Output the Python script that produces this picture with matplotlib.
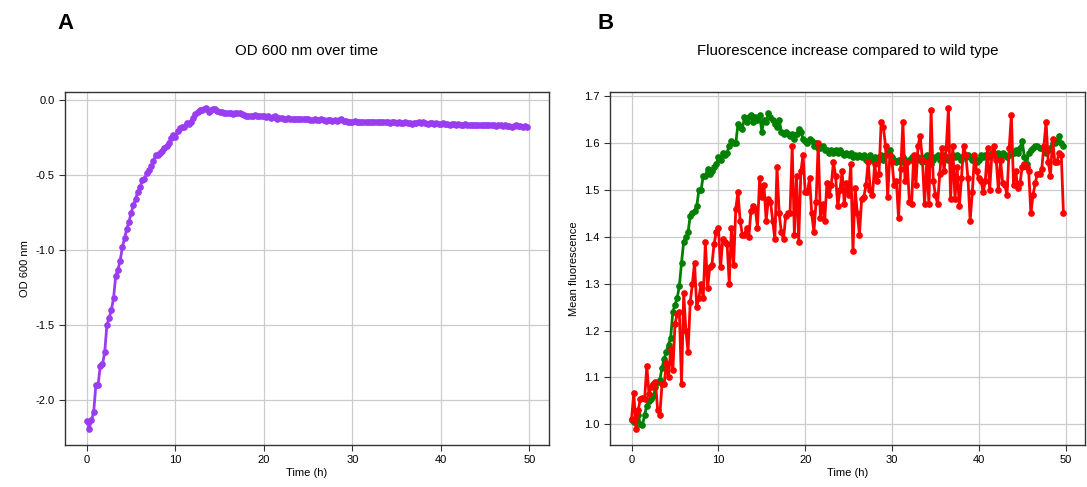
import numpy as np
import matplotlib
matplotlib.use("Agg")
import matplotlib.pyplot as plt

od600 = [
    -2.14, -2.19, -2.13, -2.08, -1.90, -1.90, -1.77, -1.76, -1.68, -1.50, -1.45, -1.40, -1.32, -1.17, -1.13, -1.07,
    -0.98, -0.92, -0.86, -0.81, -0.75, -0.70, -0.66, -0.61, -0.58, -0.535, -0.53, -0.485, -0.47, -0.44, -0.41, -0.37,
    -0.37, -0.355, -0.34, -0.32, -0.31, -0.29, -0.255, -0.235, -0.245, -0.21, -0.185, -0.18, -0.18, -0.155, -0.16, -0.15,
    -0.12, -0.095, -0.08, -0.07, -0.065, -0.06, -0.055, -0.08, -0.065, -0.06, -0.06, -0.075, -0.08, -0.08, -0.085, -0.085,
    -0.09, -0.09, -0.095, -0.09, -0.085, -0.09, -0.095, -0.10, -0.105, -0.11, -0.11, -0.105, -0.10, -0.105, -0.11, -0.11,
    -0.11, -0.115, -0.11, -0.12, -0.115, -0.11, -0.125, -0.12, -0.12, -0.125, -0.125, -0.12, -0.125, -0.125, -0.13, -0.13,
    -0.125, -0.13, -0.13, -0.125, -0.13, -0.135, -0.135, -0.13, -0.135, -0.135, -0.13, -0.135, -0.14, -0.135, -0.135, -0.14,
    -0.135, -0.14, -0.135, -0.13, -0.14, -0.14, -0.145, -0.145, -0.145, -0.14, -0.145, -0.145, -0.145, -0.15, -0.145, -0.145,
    -0.145, -0.15, -0.145, -0.15, -0.15, -0.145, -0.15, -0.15, -0.15, -0.155, -0.15, -0.15, -0.155, -0.15, -0.155, -0.155,
    -0.15, -0.155, -0.155, -0.16, -0.155, -0.155, -0.15, -0.155, -0.15, -0.155, -0.16, -0.155, -0.155, -0.16, -0.155, -0.16,
    -0.16, -0.155, -0.16, -0.16, -0.165, -0.16, -0.16, -0.165, -0.16, -0.165, -0.165, -0.16, -0.165, -0.165, -0.165, -0.17,
    -0.165, -0.165, -0.17, -0.165, -0.17, -0.17, -0.165, -0.17, -0.17, -0.175, -0.17, -0.17, -0.175, -0.17, -0.175, -0.175,
    -0.18, -0.175, -0.17, -0.175, -0.175, -0.18, -0.175, -0.18,
]

fluo_green = [
    1.01, 1.005, 1.005, 1.02, 1.00, 0.998, 1.02, 1.04, 1.05, 1.055, 1.06, 1.08, 1.09, 1.095, 1.12, 1.14,
    1.155, 1.17, 1.185, 1.24, 1.255, 1.27, 1.295, 1.345, 1.39, 1.40, 1.41, 1.445, 1.45, 1.455, 1.465, 1.50,
    1.50, 1.53, 1.53, 1.545, 1.535, 1.54, 1.55, 1.555, 1.57, 1.565, 1.58, 1.575, 1.58, 1.595, 1.605, 1.60,
    1.60, 1.64, 1.635, 1.63, 1.655, 1.645, 1.655, 1.66, 1.645, 1.655, 1.65, 1.66, 1.625, 1.65, 1.645, 1.665,
    1.655, 1.65, 1.64, 1.635, 1.65, 1.625, 1.62, 1.625, 1.62, 1.615, 1.62, 1.61, 1.62, 1.63, 1.625, 1.61,
    1.605, 1.60, 1.61, 1.605, 1.595, 1.60, 1.59, 1.59, 1.595, 1.585, 1.585, 1.58, 1.585, 1.58, 1.585, 1.58,
    1.585, 1.58, 1.575, 1.58, 1.575, 1.58, 1.57, 1.575, 1.57, 1.575, 1.57, 1.575, 1.565, 1.57, 1.575, 1.565,
    1.57, 1.56, 1.57, 1.575, 1.565, 1.575, 1.58, 1.585, 1.57, 1.565, 1.56, 1.565, 1.56, 1.57, 1.565, 1.56,
    1.565, 1.57, 1.56, 1.565, 1.57, 1.565, 1.56, 1.57, 1.575, 1.56, 1.555, 1.565, 1.57, 1.575, 1.565, 1.57,
    1.575, 1.57, 1.565, 1.57, 1.575, 1.57, 1.575, 1.57, 1.565, 1.575, 1.57, 1.575, 1.57, 1.565, 1.57, 1.56,
    1.565, 1.575, 1.57, 1.575, 1.57, 1.575, 1.58, 1.575, 1.57, 1.58, 1.575, 1.58, 1.575, 1.57, 1.575, 1.58,
    1.58, 1.585, 1.58, 1.59, 1.605, 1.57, 1.555, 1.58, 1.585, 1.59, 1.595, 1.595, 1.59, 1.59, 1.585, 1.58,
    1.585, 1.59, 1.60, 1.60, 1.605, 1.615, 1.60, 1.595,
]

fluo_red = [
    1.012, 1.067, 0.99, 1.03, 1.053, 1.057, 1.055, 1.125, 1.065, 1.08, 1.085, 1.09, 1.03, 1.02, 1.085, 1.085,
    1.13, 1.10, 1.16, 1.115, 1.215, 1.235, 1.24, 1.085, 1.28, 1.20, 1.155, 1.26, 1.30, 1.345, 1.25, 1.27,
    1.30, 1.27, 1.39, 1.29, 1.335, 1.34, 1.385, 1.41, 1.42, 1.335, 1.395, 1.39, 1.385, 1.30, 1.42, 1.34,
    1.46, 1.495, 1.435, 1.405, 1.405, 1.42, 1.40, 1.455, 1.465, 1.46, 1.42, 1.525, 1.485, 1.51, 1.435, 1.48,
    1.475, 1.435, 1.395, 1.55, 1.45, 1.41, 1.395, 1.445, 1.45, 1.45, 1.595, 1.405, 1.53, 1.39, 1.54, 1.575,
    1.495, 1.495, 1.525, 1.45, 1.41, 1.475, 1.60, 1.44, 1.47, 1.435, 1.515, 1.49, 1.51, 1.56, 1.53, 1.465,
    1.50, 1.54, 1.47, 1.515, 1.49, 1.555, 1.37, 1.505, 1.45, 1.405, 1.48, 1.485, 1.51, 1.56, 1.50, 1.49,
    1.555, 1.52, 1.535, 1.645, 1.635, 1.595, 1.485, 1.575, 1.56, 1.51, 1.52, 1.44, 1.545, 1.645, 1.52, 1.56,
    1.475, 1.47, 1.575, 1.51, 1.595, 1.615, 1.565, 1.47, 1.56, 1.47, 1.67, 1.52, 1.49, 1.47, 1.535, 1.59,
    1.54, 1.59, 1.675, 1.48, 1.595, 1.48, 1.55, 1.465, 1.525, 1.595, 1.575, 1.525, 1.435, 1.495, 1.575, 1.54,
    1.525, 1.52, 1.495, 1.52, 1.59, 1.50, 1.575, 1.595, 1.565, 1.50, 1.565, 1.515, 1.51, 1.49, 1.59, 1.66,
    1.51, 1.54, 1.505, 1.515, 1.55, 1.555, 1.55, 1.54, 1.45, 1.49, 1.515, 1.535, 1.535, 1.545, 1.595, 1.645,
    1.56, 1.53, 1.61, 1.56, 1.56, 1.58, 1.575, 1.45,
]

time_h = np.arange(len(od600)) * 0.25

# --- STYLE ---
plt.rcParams['font.family'] = ['Liberation Sans', 'DejaVu Sans']
plt.rcParams['axes.unicode_minus'] = False
GRID = '#cccccc'

fig = plt.figure(figsize=(10.87, 4.87), dpi=100)
ax_od = fig.add_axes([0.0598, 0.0862, 0.4453, 0.7248])
ax_fl = fig.add_axes([0.5612, 0.0862, 0.4370, 0.7248])

for ax in (ax_od, ax_fl):
    ax.grid(True, color=GRID, linewidth=0.9)
    ax.set_axisbelow(True)
    ax.tick_params(labelsize=8, length=4, width=0.8, color='#333333')
    for s in ax.spines.values():
        s.set_color('#333333')
        s.set_linewidth(1.0)
    ax.set_xlabel("Time (h)", fontsize=8, labelpad=2)
    ax.set_xticks([0, 10, 20, 30, 40, 50])

# Panel A: OD 600
ax_od.plot(time_h, od600, color='#9a3cf0', linewidth=2, marker='o', markersize=3.8)
ax_od.set_ylabel("OD 600 nm", fontsize=8)
ax_od.set_title("OD 600 nm over time", fontsize=10.8, pad=27)
ax_od.set_yticks([0.0, -0.5, -1.0, -1.5, -2.0])

# Panel B: fluorescence
ax_fl.plot(time_h, fluo_green, color='green', linewidth=2, marker='o', markersize=3.8)
ax_fl.plot(time_h, fluo_red, color='red', linewidth=2, marker='o', markersize=3.8)
ax_fl.set_ylabel("Mean fluorescence", fontsize=8)
ax_fl.set_title("Fluorescence increase compared to wild type", fontsize=10.8, pad=27)

# Panel letters
fig.text(0.053, 0.94, "A", fontsize=16, fontweight='bold')
fig.text(0.550, 0.94, "B", fontsize=16, fontweight='bold')

fig.savefig("out.png", dpi=100)
